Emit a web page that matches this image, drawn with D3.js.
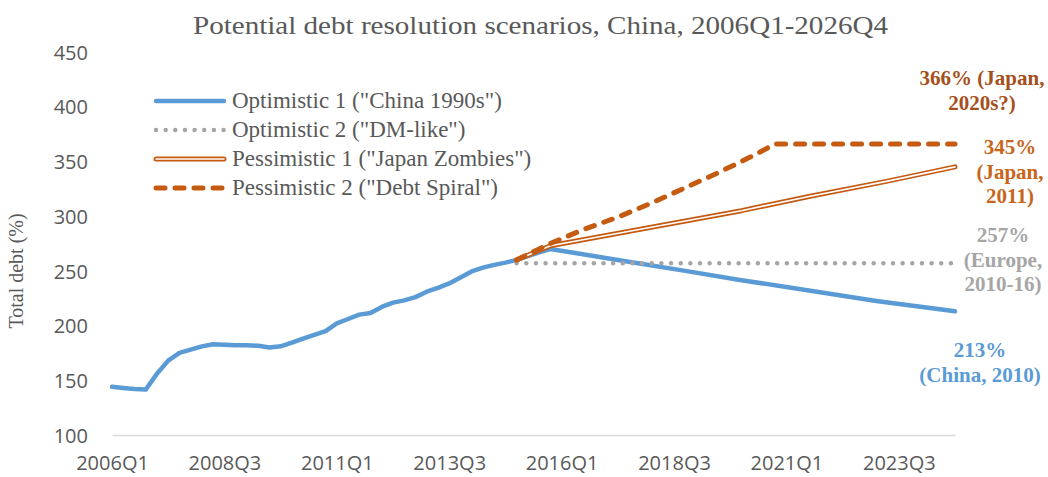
<!DOCTYPE html>
<html>
<head>
<meta charset="utf-8">
<script src="https://cdn.jsdelivr.net/npm/d3@7"></script>
<style>
  html, body { margin: 0; padding: 0; background: #fff; }
  svg { display: block; }
</style>
</head>
<body>
<svg id="chart" width="1048" height="477"></svg>
<script>
// Quarterly categories, 2006Q1 .. 2024Q4
const quarters = [];
for (let yr = 2006; yr <= 2024; yr++) for (let q = 1; q <= 4; q++) quarters.push(yr + "Q" + q);

// Every 10th quarter carries a label
const xTickLabels = ["2006Q1", "2008Q3", "2011Q1", "2013Q3", "2016Q1", "2018Q3", "2021Q1", "2023Q3"];
const yTicks = [100, 150, 200, 250, 300, 350, 400, 450];

// Historical total debt (% of GDP), 2006Q1 .. 2015Q1
const history = [144, 143, 142, 141.5, 156, 168, 175, 178, 181, 183,
                 182.5, 182, 182, 181.5, 180, 181, 184.5, 188, 191.5, 195,
                 202, 206, 210, 211.5, 217, 221, 223, 226, 231, 234.5,
                 238.5, 244, 249.5, 253, 255.5, 257.5, 260];

// Scenario paths: [quarter, value]
const optimistic1 = [["2015Q1", 260], ["2015Q2", 263.5], ["2015Q3", 267], ["2015Q4", 270],
                     ["2017Q2", 260], ["2018Q4", 250], ["2020Q1", 241.5], ["2021Q3", 232],
                     ["2023Q1", 222.5], ["2024Q4", 213]];
const optimistic2 = [["2015Q1", 257], ["2024Q4", 257]];
const pessimistic1 = [["2015Q1", 260], ["2015Q4", 273], ["2017Q4", 288], ["2020Q1", 305],
                      ["2021Q3", 318], ["2023Q2", 332], ["2024Q4", 345]];
const pessimistic2 = [["2015Q1", 260], ["2015Q4", 275], ["2016Q3", 288], ["2017Q2", 299],
                      ["2018Q1", 312], ["2018Q4", 326], ["2019Q3", 340], ["2020Q2", 355],
                      ["2020Q4", 366], ["2024Q4", 366]];

const seriesNames = ['Optimistic 1 ("China 1990s")', 'Optimistic 2 ("DM-like")',
                     'Pessimistic 1 ("Japan Zombies")', 'Pessimistic 2 ("Debt Spiral")'];

const BLUE = "#5B9BD5", GREY = "#A5A5A5", ORANGE = "#C55A11";
const TEXT = "#595959";
const SERIF = "'Liberation Serif', 'Times New Roman', serif";
const SANS = "'Open Sans', 'Noto Sans', sans-serif";

const svg = d3.select("#chart");

const x = d3.scalePoint().domain(quarters).range([112, 955]);
const y = d3.scaleLinear().domain([100, 450]).range([435, 52]);

// Title
svg.append("text")
  .attr("x", 540.5).attr("y", 34)
  .attr("text-anchor", "middle")
  .attr("font-family", SERIF).attr("font-size", 26)
  .attr("fill", TEXT)
  .attr("textLength", 695).attr("lengthAdjust", "spacingAndGlyphs")
  .text("Potential debt resolution scenarios, China, 2006Q1-2026Q4");

// Y axis labels (no axis line)
const yAxis = d3.axisLeft(y).tickValues(yTicks).tickSize(0).tickPadding(0);
const yg = svg.append("g").attr("transform", "translate(88,0)").call(yAxis);
yg.select(".domain").remove();
yg.selectAll("text")
  .attr("font-family", SANS).attr("font-size", 20).attr("fill", TEXT)
  .attr("dy", "0.36em");

// Y axis title
svg.append("text")
  .attr("transform", "translate(23,271) rotate(-90)")
  .attr("text-anchor", "middle")
  .attr("font-family", SERIF).attr("font-size", 20)
  .attr("fill", TEXT)
  .text("Total debt (%)");

// X axis
const xAxis = d3.axisBottom(x).tickValues(xTickLabels).tickSize(0).tickPadding(0);
const xg = svg.append("g").attr("transform", "translate(0," + y(100) + ")").call(xAxis);
xg.select(".domain").attr("stroke", "#D9D9D9").attr("stroke-width", 1.5);
xg.selectAll("text")
  .attr("font-family", SANS).attr("font-size", 20).attr("fill", TEXT)
  .attr("y", 35).attr("dy", 0);

// Lines
const linePairs = d3.line().x(d => x(d[0])).y(d => y(d[1]));
const histPts = history.map((v, i) => [quarters[i], v]);
const plot = svg.append("g");

// Optimistic 1: history continued by projection
plot.append("path")
  .attr("d", linePairs(histPts.concat(optimistic1.slice(1))))
  .attr("fill", "none").attr("stroke", BLUE).attr("stroke-width", 4.5)
  .attr("stroke-linejoin", "round").attr("stroke-linecap", "round");

// Optimistic 2: dotted grey
plot.append("path")
  .attr("d", linePairs(optimistic2))
  .attr("fill", "none").attr("stroke", GREY).attr("stroke-width", 4.5)
  .attr("stroke-dasharray", "0 9.65").attr("stroke-linecap", "round");

// Pessimistic 1: double (compound) line
plot.append("path")
  .attr("d", linePairs(pessimistic1))
  .attr("fill", "none").attr("stroke", ORANGE).attr("stroke-width", 5)
  .attr("stroke-linejoin", "round").attr("stroke-linecap", "round");
plot.append("path")
  .attr("d", linePairs(pessimistic1))
  .attr("fill", "none").attr("stroke", "#fff").attr("stroke-width", 1.6)
  .attr("stroke-linejoin", "round").attr("stroke-linecap", "round");

// Pessimistic 2: dashed
plot.append("path")
  .attr("d", linePairs(pessimistic2))
  .attr("fill", "none").attr("stroke", ORANGE).attr("stroke-width", 5)
  .attr("stroke-dasharray", "9 10").attr("stroke-linecap", "round")
  .attr("stroke-linejoin", "round");

// Legend
const legend = svg.append("g");
const legendRows = [101, 130, 159, 188];
const lx0 = 156, lx1 = 224;
legendRows.forEach((ly, i) => {
  const g = legend.append("g");
  const seg = g.append("line").attr("x1", lx0).attr("x2", lx1).attr("y1", ly).attr("y2", ly)
    .attr("stroke-linecap", "round");
  if (i === 0) seg.attr("stroke", BLUE).attr("stroke-width", 4.5);
  if (i === 1) seg.attr("stroke", GREY).attr("stroke-width", 4.5).attr("stroke-dasharray", "0 9.65");
  if (i === 2) {
    seg.attr("stroke", ORANGE).attr("stroke-width", 5);
    g.append("line").attr("x1", lx0).attr("x2", lx1).attr("y1", ly).attr("y2", ly)
      .attr("stroke", "#fff").attr("stroke-width", 1.6).attr("stroke-linecap", "round");
  }
  if (i === 3) seg.attr("stroke", ORANGE).attr("stroke-width", 5).attr("stroke-dasharray", "9 10");
  g.append("text")
    .attr("x", 232).attr("y", ly + 7)
    .attr("font-family", SERIF).attr("font-size", 23).attr("fill", TEXT)
    .text(seriesNames[i]);
});

// End-of-line annotations, values taken from the series
const lastVal = s => s[s.length - 1][1];
const notes = [
  { lines: [lastVal(pessimistic2) + "% (Japan,", "2020s?)"], cx: 982, y0: 85, color: "#A5501C" },
  { lines: [lastVal(pessimistic1) + "%", "(Japan,", "2011)"], cx: 1010, y0: 154, color: "#C8651B" },
  { lines: [lastVal(optimistic2) + "%", "(Europe,", "2010-16)"], cx: 1003, y0: 242, color: "#A6A6A6" },
  { lines: [lastVal(optimistic1) + "%", "(China, 2010)"], cx: 980, y0: 357, color: BLUE }
];
notes.forEach(n => {
  const t = svg.append("text")
    .attr("text-anchor", "middle")
    .attr("font-family", SERIF).attr("font-size", 21).attr("font-weight", "bold")
    .attr("fill", n.color);
  n.lines.forEach((s, k) => {
    t.append("tspan").attr("x", n.cx).attr("y", n.y0 + k * 24.5).text(s);
  });
});
</script>
</body>
</html>
